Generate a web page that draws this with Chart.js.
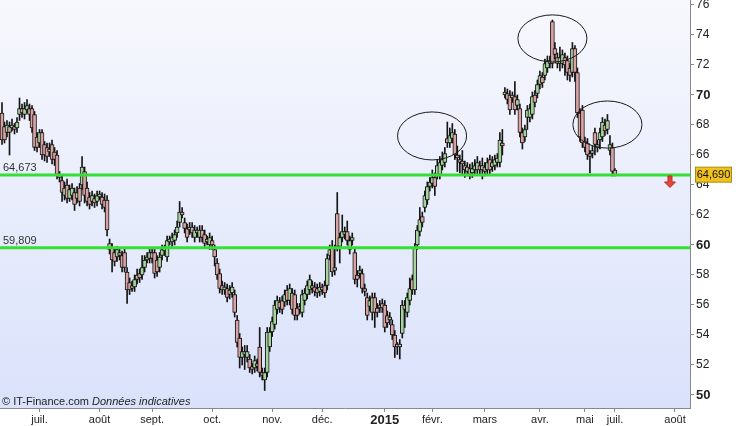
<!DOCTYPE html>
<html><head><meta charset="utf-8">
<script src="https://cdn.jsdelivr.net/npm/chart.js@4.4.1/dist/chart.umd.min.js"></script>
<style>html,body{margin:0;padding:0;background:#fff;overflow:hidden}canvas{display:block}</style>
</head><body><canvas id="c" width="745" height="426"></canvas>
<script>
const openP=[68.8,67.9,67.5,67.9,67.8,67.9,67.8,68.7,69.1,68.7,
69.0,69.1,69.1,68.7,67.2,66.8,67.5,66.7,66.5,66.2,
66.7,66.2,66.0,64.7,64.3,63.3,64.0,63.1,63.3,63.5,
63.1,63.8,64.0,64.9,63.8,63.2,62.9,63.1,62.9,63.2,
63.2,63.0,63.0,59.7,59.8,59.5,59.2,59.5,59.3,59.5,
58.2,57.5,57.1,57.2,57.7,58.1,58.0,58.5,59.0,59.1,
59.5,59.5,59.0,58.5,59.3,59.6,59.2,60.2,60.2,60.3,
60.8,61.5,62.2,61.5,61.1,61.0,61.2,60.5,60.8,60.5,
61.0,60.7,60.2,60.0,60.3,59.7,58.8,58.1,57.3,57.0,
57.1,57.0,56.8,56.7,55.0,53.8,52.5,52.7,52.5,52.4,
51.8,51.8,52.1,53.2,51.5,51.0,51.5,53.2,54.2,54.7,
55.7,56.2,56.3,56.2,57.0,56.3,56.8,56.7,55.8,55.8,
55.5,56.3,56.7,57.0,57.3,57.2,57.1,56.9,57.1,57.3,
57.3,59.3,59.8,58.3,62.1,59.9,60.5,60.7,60.9,59.7,
60.3,59.5,58.0,58.1,58.1,57.1,56.5,55.9,55.5,56.5,
55.8,55.8,56.1,56.0,55.3,55.0,54.7,54.0,53.3,53.2,
54.1,56.0,55.5,56.3,57.7,57.0,60.0,60.9,61.9,62.5,
63.0,63.9,64.1,64.5,64.7,64.7,65.3,65.5,67.1,66.8,
67.1,67.4,66.0,65.5,65.6,65.3,64.9,65.1,64.8,65.0,
65.0,65.3,65.0,65.2,65.0,65.7,65.2,65.3,65.5,65.5,
66.7,70.0,70.1,70.0,69.8,69.9,69.3,69.1,67.5,67.2,
68.5,68.5,68.7,70.0,70.1,70.7,71.2,71.3,71.8,72.1,
74.9,73.1,72.5,72.1,72.1,72.5,72.3,71.8,71.5,73.1,
71.5,68.8,69.0,66.9,66.8,66.0,66.1,67.5,66.5,67.0,
67.2,68.0,67.7,66.3,66.5,65.0];
const closeP=[67.0,67.0,68.0,67.5,68.0,67.7,68.2,69.1,68.8,69.1,
69.3,68.7,67.8,66.5,66.5,67.5,66.0,66.0,65.9,66.4,
65.7,65.7,64.7,64.5,63.5,63.8,63.1,63.7,63.8,62.7,
63.5,62.9,65.2,63.3,62.9,62.7,63.3,62.8,63.3,63.3,
62.7,62.5,61.0,60.1,59.0,58.9,59.7,59.3,58.5,58.5,
57.0,57.0,57.3,57.7,58.0,57.8,58.5,59.0,59.2,59.5,
59.1,58.1,58.2,59.2,59.7,59.7,60.3,60.3,60.5,60.7,
61.2,62.2,62.0,61.1,60.5,61.2,60.8,61.0,60.9,61.0,
60.5,60.1,60.3,60.5,60.0,59.2,58.0,57.1,57.0,57.2,
56.5,56.7,57.2,55.5,53.5,52.5,52.9,52.9,52.9,51.8,
51.7,52.3,51.9,51.5,51.3,51.5,54.2,54.2,54.9,56.0,
56.3,55.8,55.7,56.7,56.3,57.1,55.7,55.3,55.3,55.7,
56.7,56.8,57.3,57.7,57.1,56.9,56.8,57.2,57.0,56.8,
59.1,59.7,58.2,58.5,59.9,60.5,60.9,60.9,60.3,60.3,
60.5,57.7,57.7,58.3,57.1,56.9,55.3,56.3,56.5,55.5,
55.5,56.0,55.8,54.5,54.8,55.2,54.0,53.2,53.2,53.4,
56.0,55.7,56.5,57.1,57.0,59.8,61.0,61.7,61.5,63.3,
63.9,64.2,64.5,63.9,65.3,65.5,65.7,66.1,66.8,67.3,
67.5,66.0,65.8,65.6,65.4,65.0,65.2,64.7,65.1,65.3,
65.5,65.0,65.3,64.9,65.5,65.0,65.5,65.7,65.8,67.0,
66.6,70.2,69.7,69.0,69.9,69.0,69.7,67.5,66.8,67.7,
69.0,69.1,69.9,69.5,70.7,71.3,70.8,72.1,72.3,72.3,
72.1,72.7,72.1,72.5,72.7,72.0,71.5,71.3,73.1,71.5,
68.8,67.2,66.8,66.5,66.0,65.9,66.3,66.7,66.7,67.5,
68.2,67.6,68.3,66.7,64.9,64.69];
const highP=[69.5,68.2,68.3,68.2,68.4,68.1,68.5,69.8,69.4,69.5,
69.7,69.4,69.3,68.9,67.5,67.7,67.7,66.9,66.8,66.8,
67.0,66.5,66.3,64.9,64.6,64.2,64.4,64.0,64.1,63.8,
63.9,64.1,65.9,65.2,64.2,63.5,63.6,63.4,63.6,63.6,
63.5,63.4,63.3,60.4,60.1,59.8,59.9,59.8,59.6,59.8,
58.5,57.8,57.6,58.0,58.4,58.4,59.3,59.3,59.5,59.8,
59.8,59.8,59.3,59.5,60.0,60.0,60.6,60.6,60.8,61.0,
61.6,62.9,62.5,61.8,61.4,61.5,61.5,61.3,61.2,61.3,
61.3,61.0,60.6,60.8,60.6,60.0,59.1,58.4,57.6,57.5,
57.4,57.3,57.5,57.0,55.3,54.1,53.2,53.3,53.3,52.7,
52.1,52.6,52.4,54.5,51.8,51.8,54.5,54.5,55.2,56.3,
56.6,56.5,56.6,57.0,57.3,57.4,57.1,57.0,56.1,56.1,
57.0,57.1,57.6,58.0,57.6,57.5,57.4,57.5,57.4,57.6,
59.4,60.0,60.3,60.0,63.5,60.8,62.0,61.2,61.6,60.6,
60.8,59.8,58.3,58.6,58.4,57.4,56.8,56.6,56.8,56.8,
56.1,56.3,56.4,56.3,55.6,55.5,55.0,54.3,53.5,53.7,
56.3,56.3,56.8,57.8,58.0,60.1,61.3,62.5,62.2,63.6,
64.2,64.5,65.0,64.8,65.7,65.9,66.2,66.5,68.2,67.8,
68.1,67.7,66.6,66.0,66.3,65.6,65.5,65.4,65.5,65.7,
65.9,65.6,65.8,65.5,65.8,66.0,65.9,66.0,66.1,67.5,
67.7,70.5,70.4,70.3,70.2,70.9,70.0,69.4,67.8,68.0,
69.3,69.4,70.2,70.3,71.0,71.6,71.5,72.4,72.6,72.6,
75.0,73.5,72.8,73.2,73.0,72.8,72.6,72.1,73.5,73.3,
71.8,69.1,69.3,67.2,67.1,66.3,66.6,67.8,67.0,67.8,
68.5,68.4,68.7,67.3,66.8,65.1];
const lowP=[66.7,66.8,67.2,66.0,67.6,67.4,67.5,68.3,68.5,68.4,
68.8,68.3,67.5,66.3,66.2,66.5,65.7,65.6,65.5,65.9,
65.4,65.3,64.4,64.2,62.9,63.0,62.8,62.9,63.0,62.3,
62.8,62.6,63.7,62.8,62.6,62.4,62.6,62.5,62.6,63.0,
62.4,62.2,60.6,59.4,58.2,58.6,58.9,59.0,58.2,58.2,
56.1,56.7,56.9,56.9,57.4,57.5,57.7,58.2,58.8,58.8,
58.8,57.8,57.9,58.2,59.0,59.3,58.9,60.0,59.9,60.0,
60.5,61.2,61.8,60.8,60.2,60.7,60.5,60.2,60.5,60.2,
60.2,59.8,60.0,59.7,59.7,58.6,57.7,56.8,56.7,56.7,
56.2,56.4,56.5,55.2,53.2,51.8,52.0,51.7,52.2,51.5,
51.4,51.5,51.6,51.2,51.0,50.3,51.2,52.9,53.9,54.4,
55.4,55.5,55.4,55.9,56.0,56.0,55.4,55.0,55.0,55.4,
55.2,56.0,56.4,56.7,56.8,56.6,56.5,56.6,56.7,56.5,
57.0,59.0,57.9,58.0,59.6,58.8,60.2,60.4,60.0,59.4,
60.0,57.4,57.2,57.8,56.8,56.6,55.0,55.6,55.0,54.5,
55.2,55.5,55.5,54.2,54.5,54.7,53.7,52.5,52.7,52.4,
53.8,54.5,55.2,56.0,56.7,56.7,59.7,60.6,61.2,62.2,
62.7,63.6,63.8,63.3,64.4,64.4,65.0,65.2,66.5,66.5,
66.8,65.7,64.9,64.8,64.7,64.5,64.6,64.4,64.5,64.7,
64.7,64.7,64.4,64.6,64.7,64.7,64.9,65.0,65.2,65.2,
66.0,69.8,69.4,68.7,69.5,68.7,69.0,67.2,66.4,66.9,
67.7,68.2,68.4,69.2,69.8,70.4,70.5,71.0,71.5,71.8,
71.8,72.4,71.8,71.6,71.8,71.3,71.0,70.9,71.2,70.9,
68.5,66.9,66.5,66.2,65.7,64.8,65.8,66.0,66.2,66.4,
66.9,67.3,67.4,66.0,64.6,64.6];
const monthLabels=['juil.','août','sept.','oct.','nov.','déc.','2015','févr.','mars','avr.','mai','juil.','août'];
const monthIdx=[15,39,60,84,108,128,153,172,193,215,233,245,269];
const supportLevels=[64.673,59.809];
const supportLabels=['64,673','59,809'];
const lastPriceLabel='64,690';
const copyrightText='© IT-Finance.com';
const disclaimerText='Données indicatives';

const N=closeP.length;
const idx=Array.from({length:N},(_,i)=>i);
const GREEN='#a6d49e', PINK='#d9a3a3';
const FONT='"Liberation Sans", Arial, sans-serif';

const bgPlugin={id:'bg',beforeDraw(chart){
  const {ctx,chartArea:a}=chart;ctx.save();
  ctx.fillStyle='#fff';ctx.fillRect(0,0,chart.width,chart.height);
  const g=ctx.createLinearGradient(0,a.top,0,a.bottom);
  g.addColorStop(0,'#f7f8fd');g.addColorStop(1,'#dae2fb');
  ctx.fillStyle=g;ctx.fillRect(a.left,a.top,a.right-a.left,a.bottom-a.top);
  ctx.restore();}};

const annoPlugin={id:'anno',
 afterDatasetsDraw(chart){
  const {ctx,chartArea:a,scales:{x,y}}=chart;ctx.save();
  supportLevels.forEach((lv,k)=>{
    const py=y.getPixelForValue(lv);
    ctx.strokeStyle='#33e033';ctx.lineWidth=3;
    ctx.beginPath();ctx.moveTo(a.left,py);ctx.lineTo(a.right,py);ctx.stroke();
    ctx.fillStyle='#333';ctx.font='11px '+FONT;ctx.textBaseline='bottom';ctx.textAlign='left';
    ctx.fillText(supportLabels[k],3,py-1);
  });
  const ells=[[171.9,67.27,13.8,1.6],[220.0,73.77,13.8,1.57],[242.0,68.03,13.8,1.57]];
  ctx.strokeStyle='#1a1a1a';ctx.lineWidth=1;
  ells.forEach(e=>{
    const cx=x.getPixelForValue(e[0]),cy=y.getPixelForValue(e[1]);
    const rx=x.getPixelForValue(e[0]+e[2])-cx,ry=cy-y.getPixelForValue(e[1]+e[3]);
    ctx.beginPath();ctx.ellipse(cx,cy,rx,ry,0,0,Math.PI*2);ctx.stroke();
  });
  const ax=x.getPixelForValue(267),ay=y.getPixelForValue(64.6);
  ctx.fillStyle='#e8453e';ctx.strokeStyle='#b82a24';ctx.lineWidth=1;
  ctx.beginPath();
  ctx.moveTo(ax-2,ay);ctx.lineTo(ax+2,ay);ctx.lineTo(ax+2,ay+6);ctx.lineTo(ax+5.5,ay+6);
  ctx.lineTo(ax,ay+11.5);ctx.lineTo(ax-5.5,ay+6);ctx.lineTo(ax-2,ay+6);ctx.closePath();
  ctx.fill();ctx.stroke();
  ctx.fillStyle='#222';ctx.textBaseline='alphabetic';ctx.textAlign='left';
  ctx.font='11px '+FONT;ctx.fillText(copyrightText,2,405);
  ctx.font='italic 11px '+FONT;ctx.fillText(disclaimerText,92,405);
  ctx.restore();
 },
 afterDraw(chart){
  const {ctx,scales:{y}}=chart;ctx.save();
  const py=y.getPixelForValue(closeP[N-1]);
  ctx.fillStyle='#f2c21c';ctx.strokeStyle='#a88d12';ctx.lineWidth=1;
  ctx.fillRect(695.5,py-7.5,36,15);ctx.strokeRect(695.5,py-7.5,36,15);
  ctx.fillStyle='#111';ctx.font='11px '+FONT;ctx.textAlign='center';ctx.textBaseline='middle';
  ctx.fillText(lastPriceLabel,713.5,py+0.5);
  ctx.restore();
 }};

new Chart(document.getElementById('c'),{
 type:'bar',
 data:{datasets:[
  {label:'wick',data:idx.map(i=>({x:i,y:[lowP[i],highP[i]]})),backgroundColor:'#151515',borderWidth:0,barThickness:1,order:2,grouped:false},
  {label:'body',data:idx.map(i=>({x:i,y:[openP[i],closeP[i]]})),
   backgroundColor:idx.map(i=>closeP[i]>=openP[i]?GREEN:PINK),borderColor:'#151515',borderWidth:1,borderSkipped:false,
   barThickness:4,minBarLength:3,order:1,grouped:false}
 ]},
 options:{responsive:false,animation:false,
  layout:{padding:0},
  plugins:{legend:{display:false},tooltip:{enabled:false}},
  scales:{
   x:{type:'linear',min:-0.8,max:275,offset:false,
    afterBuildTicks:s=>{s.ticks=monthIdx.map(v=>({value:v}));},
    afterFit:s=>{s.height=18;s.paddingLeft=0;s.paddingRight=0;},
    grid:{drawOnChartArea:false,tickLength:4,color:'#888',offset:false},
    border:{color:'#888'},
    ticks:{autoSkip:false,maxRotation:0,padding:1,color:'#222',
     callback:(v,i)=>monthLabels[i],
     font:c=>monthLabels[c.index]==='2015'?{family:FONT,size:13,weight:'bold'}:{family:FONT,size:11}}},
   y:{type:'linear',position:'right',min:49.133,max:76.333,
    afterBuildTicks:s=>{const t=[];for(let v=50;v<=76;v++)t.push({value:v});s.ticks=t;},
    afterFit:s=>{s.width=55;s.paddingTop=0;s.paddingBottom=0;},
    grid:{drawOnChartArea:false,tickLength:4,color:'#888'},
    border:{color:'#888'},
    ticks:{padding:2,color:'#222',
     callback:v=>v%2===0?String(v):'',
     font:c=>(c.tick&&c.tick.value%10===0)?{family:FONT,size:13,weight:'bold'}:{family:FONT,size:12}}}
  }},
 plugins:[bgPlugin,annoPlugin]
});
</script></body></html>
